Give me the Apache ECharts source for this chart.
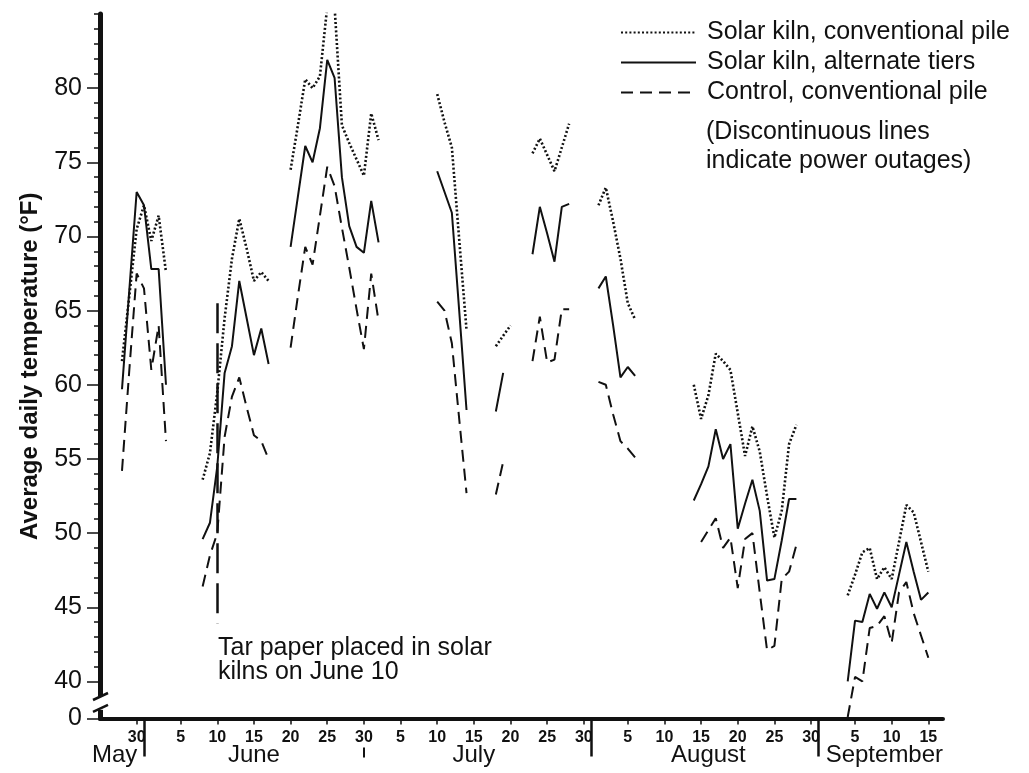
<!DOCTYPE html>
<html><head><meta charset="utf-8">
<script src="https://cdn.jsdelivr.net/npm/echarts@6/dist/echarts.min.js"></script>
<style>html,body{margin:0;padding:0;background:#fff}#c{width:1029px;height:773px}</style>
</head><body><div id="c"></div>
<script>
// ---- categories: one per day, May 25 .. Sep 17 ----
const categories = [
 'May 25','May 26','May 27','May 28','May 29','May 30','May 31',
 'Jun 1','Jun 2','Jun 3','Jun 4','Jun 5','Jun 6','Jun 7','Jun 8','Jun 9','Jun 10',
 'Jun 11','Jun 12','Jun 13','Jun 14','Jun 15','Jun 16','Jun 17','Jun 18','Jun 19','Jun 20',
 'Jun 21','Jun 22','Jun 23','Jun 24','Jun 25','Jun 26','Jun 27','Jun 28','Jun 29','Jun 30',
 'Jul 1','Jul 2','Jul 3','Jul 4','Jul 5','Jul 6','Jul 7','Jul 8','Jul 9','Jul 10',
 'Jul 11','Jul 12','Jul 13','Jul 14','Jul 15','Jul 16','Jul 17','Jul 18','Jul 19','Jul 20',
 'Jul 21','Jul 22','Jul 23','Jul 24','Jul 25','Jul 26','Jul 27','Jul 28','Jul 29','Jul 30','Jul 31',
 'Aug 1','Aug 2','Aug 3','Aug 4','Aug 5','Aug 6','Aug 7','Aug 8','Aug 9','Aug 10',
 'Aug 11','Aug 12','Aug 13','Aug 14','Aug 15','Aug 16','Aug 17','Aug 18','Aug 19','Aug 20',
 'Aug 21','Aug 22','Aug 23','Aug 24','Aug 25','Aug 26','Aug 27','Aug 28','Aug 29','Aug 30','Aug 31',
 'Sep 1','Sep 2','Sep 3','Sep 4','Sep 5','Sep 6','Sep 7','Sep 8','Sep 9','Sep 10',
 'Sep 11','Sep 12','Sep 13','Sep 14','Sep 15','Sep 16','Sep 17'
];

// ---- series values (°F), null = no record (power outage) ----
const solarConventional = [
 null,null,null,61.6,66.0,70.5,72.1,
 69.7,71.4,67.6,null,null,null,null,53.6,55.4,59.5,64.5,68.5,71.2,69.2,67.0,67.6,67.0,null,null,74.5,77.5,80.6,80.0,80.8,85.5,85.5,77.5,76.3,75.2,74.1,
 78.3,76.5,null,null,null,null,null,null,null,79.6,77.7,76.0,69.8,63.7,null,null,null,62.6,63.3,64.0,null,null,75.6,76.6,75.5,74.4,76.0,77.6,null,null,null,
 72.1,73.3,71.0,68.5,65.5,64.4,null,null,null,null,null,null,null,60.0,57.7,59.3,62.1,61.6,61.0,58.1,55.2,57.2,55.5,52.5,49.7,51.5,56.0,57.3,null,null,null,
 null,null,null,45.8,47.2,48.7,49.0,46.9,47.7,46.9,49.4,51.9,51.4,49.4,47.4,null,null
];
const solarAlternate = [
 null,null,null,59.7,66.4,73.0,72.1,
 67.8,67.8,60.0,null,null,null,null,49.6,50.7,54.5,60.8,62.6,67.0,64.5,62.0,63.8,61.4,null,null,69.3,72.7,76.1,75.0,77.3,81.9,80.7,74.0,70.7,69.3,68.9,
 72.4,69.6,null,null,null,null,null,null,null,74.4,73.0,71.6,65.0,58.3,null,null,null,58.2,60.8,null,null,null,68.8,72.0,70.2,68.3,72.0,72.2,null,null,null,
 66.5,67.3,64.0,60.5,61.2,60.6,null,null,null,null,null,null,null,52.2,53.3,54.5,57.0,55.0,56.0,50.3,52.0,53.6,51.5,46.8,46.9,49.5,52.3,52.3,null,null,null,
 null,null,null,40.0,44.1,44.0,45.9,44.9,46.0,45.0,47.2,49.4,47.4,45.5,46.0,null,null
];
const controlConventional = [
 null,null,null,54.2,61.0,67.5,66.5,
 61.0,64.0,56.2,null,null,null,null,46.4,48.5,50.0,56.5,59.2,60.5,58.5,56.6,56.2,55.0,null,null,62.5,66.0,69.3,68.1,71.4,74.7,73.4,70.6,67.9,65.1,62.4,
 67.5,64.3,null,null,null,null,null,null,null,65.6,65.0,62.8,57.7,52.7,null,null,null,52.6,54.8,null,null,null,61.6,64.6,61.5,61.7,65.1,65.1,null,null,null,
 60.2,60.0,58.0,56.2,55.7,55.1,null,null,null,null,null,null,null,null,49.4,50.2,51.0,49.0,49.7,46.3,49.6,50.0,46.0,42.1,42.4,46.9,47.4,49.2,null,null,null,
 null,null,null,37.6,40.3,40.0,43.6,43.75,44.4,42.6,46.0,46.7,44.6,43.1,41.6,null,null
];
const seriesNames = ['Solar kiln, conventional pile','Solar kiln, alternate tiers','Control, conventional pile'];

// ---- axis ticks and labels ----
const dayTickCategories = ['May 30','Jun 5','Jun 10','Jun 15','Jun 20','Jun 25','Jun 30','Jul 5','Jul 10','Jul 15','Jul 20','Jul 25','Jul 30','Aug 5','Aug 10','Aug 15','Aug 20','Aug 25','Aug 30','Sep 5','Sep 10','Sep 15'];
const monthNames = ['May','June','July','August','September'];
const monthNameAt = ['May 27','Jun 15','Jul 15','Aug 16','Sep 9'];
const monthSeparators = ['May 31','Jul 31','Aug 31'];
const shortSeparators = ['Jun 30'];
const yMajorTicks = [37.5,40,45,50,55,60,65,70,75,80];
const yMajorLabels = ['0','40','45','50','55','60','65','70','75','80'];
const yMinorTicks = [41,42,43,44,46,47,48,49,51,52,53,54,56,57,58,59,61,62,63,64,66,67,68,69,71,72,73,74,76,77,78,79,81,82,83,84,85];
const tarPaperMarker = {category:'Jun 10', from:65.5, to:43.9};

const FONT = '"Liberation Sans", Arial, Helvetica, sans-serif';
const INK = '#111';
const tickSet = new Set(dayTickCategories);
const monthMap = new Map(monthNameAt.map((c,i)=>[c, monthNames[i]]));
const sepSet = new Set(monthSeparators);
const shortSet = new Set(shortSeparators);

const chart = echarts.init(document.getElementById('c'), null, {renderer:'canvas'});
const baseLine = {symbol:'none', connectNulls:false, type:'line', silent:true, itemStyle:{color:INK}};
chart.setOption({
  animation:false,
  backgroundColor:'#fff',
  grid:{left:100, right:86, top:14, bottom:54.5, containLabel:false},
  legend:{
    left:615, top:15, orient:'vertical', itemWidth:75, itemHeight:14, itemGap:5,
    data:seriesNames,
    itemStyle:{opacity:0},
    textStyle:{fontFamily:FONT, fontSize:25, color:INK, lineHeight:25, padding:[0,0,0,6]}
  },
  xAxis:[
    {type:'category', data:categories, boundaryGap:false,
     axisLine:{lineStyle:{color:INK, width:4}},
     axisTick:{interval:(i,v)=>tickSet.has(v), length:6, lineStyle:{color:INK, width:1.5}},
     axisLabel:{interval:(i,v)=>tickSet.has(v), formatter:v=>v.split(' ')[1], fontFamily:FONT, fontSize:16, fontWeight:'bold', color:INK, margin:11},
     splitLine:{show:false}},
    {type:'category', data:categories, boundaryGap:false, position:'bottom',
     axisLine:{show:false},
     axisTick:{interval:(i,v)=>sepSet.has(v), length:38, lineStyle:{color:INK, width:2.5}},
     axisLabel:{interval:(i,v)=>monthMap.has(v), formatter:v=>monthMap.get(v)||'', fontFamily:FONT, fontSize:24, color:INK, margin:25},
     splitLine:{show:false}},
    {type:'category', data:categories, boundaryGap:false, position:'bottom', offset:29,
     axisLine:{show:false},
     axisTick:{interval:(i,v)=>shortSet.has(v), length:10, lineStyle:{color:INK, width:2}},
     axisLabel:{show:false}, splitLine:{show:false}}
  ],
  yAxis:[
    {type:'value', min:37.5, max:85, position:'left',
     name:'Average daily temperature (°F)', nameLocation:'middle', nameRotate:90, nameGap:58,
     nameTextStyle:{fontFamily:FONT, fontSize:24, fontWeight:'bold', color:INK},
     axisLine:{show:true, lineStyle:{color:INK, width:5}},
     axisTick:{show:true, customValues:yMajorTicks, length:13, lineStyle:{color:INK, width:1.5}},
     axisLabel:{customValues:yMajorTicks, formatter:v=>yMajorLabels[yMajorTicks.indexOf(v)] ?? '', fontFamily:FONT, fontSize:25, color:INK, margin:18},
     splitLine:{show:false}},
    {type:'value', min:37.5, max:85, position:'left',
     axisLine:{show:false},
     axisTick:{show:true, customValues:yMinorTicks, length:6, lineStyle:{color:INK, width:1.5}},
     axisLabel:{show:false}, splitLine:{show:false}}
  ],
  series:[
    Object.assign({}, baseLine, {name:seriesNames[0], data:solarConventional, lineStyle:{color:INK, width:2.6, type:[2,2.2]}}),
    Object.assign({}, baseLine, {name:seriesNames[1], data:solarAlternate, lineStyle:{color:INK, width:2, type:'solid'}}),
    Object.assign({}, baseLine, {name:seriesNames[2], data:controlConventional, lineStyle:{color:INK, width:2, type:[12,7]},
      markLine:{symbol:'none', silent:true, label:{show:false}, lineStyle:{color:INK, width:2.5, type:[30,10]},
        data:[[{coord:[tarPaperMarker.category, tarPaperMarker.from]}, {coord:[tarPaperMarker.category, tarPaperMarker.to]}]]}})
  ]
});

// axis-break mark and notes
const py = v => chart.convertToPixel({yAxisIndex:0}, v);
const ax = chart.convertToPixel({xAxisIndex:0}, categories[0]);
const yb1 = py(38.95), yb2 = py(38.15);
chart.setOption({
  graphic:[
    {type:'rect', shape:{x:ax-4, y:yb1-1, width:8, height:yb2-yb1+2}, style:{fill:'#fff'}, z:100},
    {type:'line', shape:{x1:ax-7, y1:yb1+3, x2:ax+8, y2:yb1-4}, style:{stroke:INK, lineWidth:2.5}, z:101},
    {type:'line', shape:{x1:ax-7, y1:yb2+3, x2:ax+8, y2:yb2-4}, style:{stroke:INK, lineWidth:2.5}, z:101},
    {type:'text', left:706, top:118, style:{text:'(Discontinuous lines\nindicate power outages)', fontFamily:FONT, fontSize:25, lineHeight:29, fill:INK}},
    {type:'text', left:218, top:636, style:{text:'Tar paper placed in solar\nkilns on June 10', fontFamily:FONT, fontSize:25, lineHeight:24, fill:INK}}
  ]
});
</script>
</body></html>
